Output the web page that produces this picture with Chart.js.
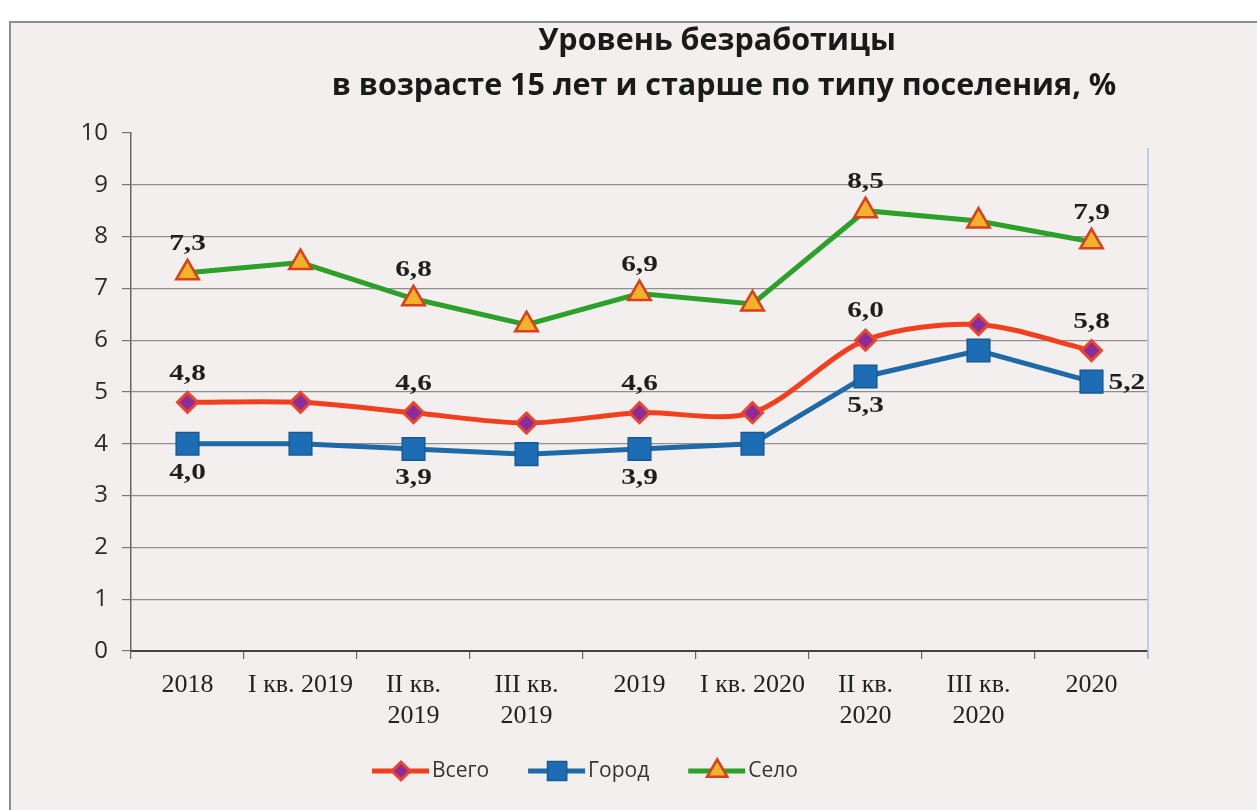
<!DOCTYPE html>
<html><head><meta charset="utf-8">
<script src="https://cdn.jsdelivr.net/npm/chart.js@4/dist/chart.umd.min.js"></script>
<style>html,body{margin:0;padding:0;background:#fff;overflow:hidden}</style>
</head><body>
<canvas id="c" width="1257" height="810"></canvas>
<script>
const categories = ['2018', 'I кв. 2019', ['II кв.', '2019'], ['III кв.', '2019'], '2019', 'I кв. 2020', ['II кв.', '2020'], ['III кв.', '2020'], '2020'];
const seriesNames = ['Всего', 'Город', 'Село'];
const totalValues = [4.8, 4.8, 4.6, 4.4, 4.6, 4.6, 6.0, 6.3, 5.8];
const cityValues  = [4.0, 4.0, 3.9, 3.8, 3.9, 4.0, 5.3, 5.8, 5.2];
const ruralValues = [7.3, 7.5, 6.8, 6.3, 6.9, 6.7, 8.5, 8.3, 7.9];
const yMin = 0, yMax = 10, yStep = 1;
const titleLines = ['Уровень безработицы', 'в возрасте 15 лет и старше по типу поселения, %'];

const colors = {
  total: '#f2401f', totalPoint: '#8a2c9e',
  city: '#1f69a6', cityPoint: '#1c6db3',
  rural: '#2ca12a', ruralPoint: '#f6b12c', ruralBorder: '#d6401c'
};

const labelSpec = [
  {ds: 0, idx: [0, 2, 4, 6, 8], pos: 'above'},
  {ds: 1, idx: [0, 2, 4, 6], pos: 'below'},
  {ds: 1, idx: [8], pos: 'right'},
  {ds: 2, idx: [0, 2, 4, 6, 8], pos: 'above'}
];

const fmt = v => v.toFixed(1).replace('.', ',');

const bgPlugin = {
  id: 'bg',
  beforeDraw(chart) {
    const ctx = chart.ctx;
    ctx.save();
    ctx.fillStyle = '#ffffff';
    ctx.fillRect(0, 0, chart.width, chart.height);
    ctx.fillStyle = '#f4efef';
    ctx.fillRect(10, 22, chart.width, chart.height);
    ctx.strokeStyle = '#8f8f8f';
    ctx.lineWidth = 2;
    ctx.beginPath();
    ctx.moveTo(10, chart.height + 5);
    ctx.lineTo(10, 22);
    ctx.lineTo(chart.width + 5, 22);
    ctx.stroke();
    ctx.fillStyle = '#1a1a1a';
    ctx.font = 'bold 30.5px "Open Sans", sans-serif';
    ctx.textAlign = 'center';
    ctx.textBaseline = 'middle';
    ctx.fillText(titleLines[0], 717, 41);
    ctx.fillText(titleLines[1], 724, 86);
    ctx.restore();
  },
  beforeDatasetsDraw(chart) {
    const ctx = chart.ctx, a = chart.chartArea;
    ctx.save();
    ctx.strokeStyle = '#a9c6e4';
    ctx.lineWidth = 1.5;
    ctx.beginPath();
    ctx.moveTo(a.right, a.top + 15);
    ctx.lineTo(a.right, a.bottom + 8);
    ctx.stroke();
    ctx.restore();
  }
};

const labelPlugin = {
  id: 'dlabels',
  afterDatasetsDraw(chart) {
    const ctx = chart.ctx;
    const sx = 1.22;
    ctx.save();
    ctx.font = 'bold 24px "Liberation Serif", "Times New Roman", serif';
    ctx.fillStyle = '#1e1e1e';
    ctx.textBaseline = 'middle';
    labelSpec.forEach(s => {
      const meta = chart.getDatasetMeta(s.ds);
      const vals = chart.data.datasets[s.ds].data;
      s.idx.forEach(i => {
        const p = meta.data[i];
        const t = fmt(vals[i]);
        let x = p.x, y = p.y, align = 'center';
        if (s.pos === 'above') { y -= 29; }
        else if (s.pos === 'below') { y += 29; }
        else { x += 17; y += 1; align = 'left'; }
        ctx.save();
        ctx.translate(x, y);
        ctx.scale(sx, 1);
        ctx.textAlign = align;
        ctx.fillText(t, 0, 0);
        ctx.restore();
      });
    });
    ctx.restore();
  }
};

const legendPlugin = {
  id: 'customLegend',
  afterDraw(chart) {
    const ctx = chart.ctx;
    ctx.save();
    ctx.font = '21px "Open Sans", sans-serif';
    ctx.textBaseline = 'middle';
    ctx.textAlign = 'left';
    let x = 372;
    const y = 771;
    chart.data.datasets.forEach((ds, i) => {
      ctx.strokeStyle = ds.borderColor;
      ctx.lineWidth = 5;
      ctx.beginPath();
      ctx.moveTo(x, y);
      ctx.lineTo(x + 57, y);
      ctx.stroke();
      ctx.fillStyle = ds.pointBackgroundColor;
      ctx.strokeStyle = ds.pointBorderColor;
      ctx.lineWidth = ds.pointBorderWidth;
      Chart.helpers.drawPoint(ctx, {pointStyle: ds.pointStyle, rotation: 0,
        radius: ds.pointRadius * (i === 1 ? 0.85 : 0.9), borderWidth: ds.pointBorderWidth}, x + 29, y);
      ctx.fillStyle = '#333';
      ctx.fillText(ds.label, x + 60, y);
      x += 60 + ctx.measureText(ds.label).width + 39;
    });
    ctx.restore();
  }
};

new Chart(document.getElementById('c'), {
  type: 'line',
  data: {
    labels: categories,
    datasets: [
      {label: seriesNames[0], data: totalValues, borderColor: colors.total, borderWidth: 5, tension: 0.3,
       pointStyle: 'rectRot', pointRadius: 10, pointBackgroundColor: colors.totalPoint, pointBorderColor: '#e8452c', pointBorderWidth: 3},
      {label: seriesNames[1], data: cityValues, borderColor: colors.city, borderWidth: 5, tension: 0,
       pointStyle: 'rect', pointRadius: 16, pointBackgroundColor: colors.cityPoint, pointBorderColor: '#175a91', pointBorderWidth: 1.5},
      {label: seriesNames[2], data: ruralValues, borderColor: colors.rural, borderWidth: 5, tension: 0,
       pointStyle: 'triangle', pointRadius: 13, pointBackgroundColor: colors.ruralPoint, pointBorderColor: colors.ruralBorder, pointBorderWidth: 2.5}
    ]
  },
  options: {
    responsive: false,
    animation: false,
    devicePixelRatio: 1,
    layout: {padding: {left: 10, right: 109, top: 133, bottom: 69}},
    plugins: {legend: {display: false}, title: {display: false}, tooltip: {enabled: false}},
    scales: {
      x: {
        offset: true,
        afterFit: s => { s.height = 90; },
        grid: {offset: true, drawOnChartArea: false, tickLength: 8, color: '#666', lineWidth: 1.2},
        border: {display: true, color: '#444', width: 2},
        ticks: {autoSkip: false, maxRotation: 0, minRotation: 0, padding: 10, color: '#222',
                font: {family: '"Liberation Serif", "Times New Roman", serif', size: 26, lineHeight: 1.22}}
      },
      y: {
        min: yMin, max: yMax,
        afterFit: s => { s.width = 121; },
        grid: {color: ctx => ctx.tick && ctx.tick.value === yMax ? 'rgba(0,0,0,0)' : '#8e8e8e', lineWidth: 1.2,
               tickLength: 9, tickColor: '#777'},
        border: {display: true, color: '#666', width: 1.5},
        ticks: {stepSize: yStep, padding: 14, color: '#2a2a2a', font: {family: '"Open Sans", sans-serif', size: 24}}
      }
    }
  },
  plugins: [bgPlugin, labelPlugin, legendPlugin]
});
</script>
</body></html>
